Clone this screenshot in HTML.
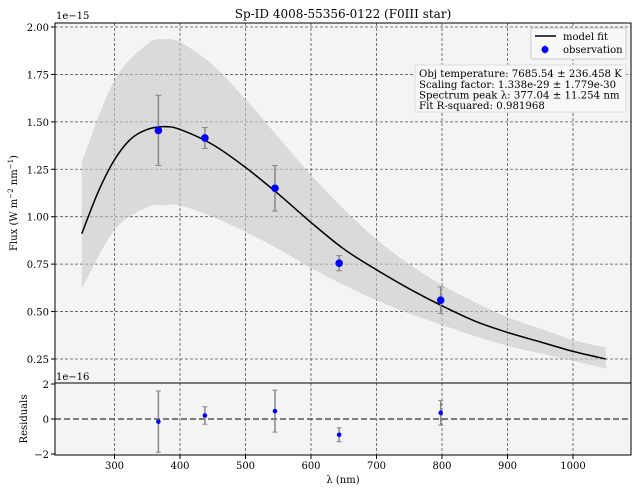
<!DOCTYPE html>
<html><head><meta charset="utf-8"><style>
body{margin:0;background:#fff;}
svg{font-family:"DejaVu Serif","Liberation Serif",serif;display:block}
</style></head><body>
<svg id="c" width="638" height="491" viewBox="0 0 638 491">
<rect x="0" y="0" width="638" height="491" fill="#fff"/>
<text x="343" y="18" font-size="12" text-anchor="middle">Sp-ID 4008-55356-0122 (F0III star)</text>
<rect x="55" y="23" width="576" height="360" fill="#f4f4f4"/>
<rect x="55" y="383" width="576" height="72" fill="#f4f4f4"/>
<g id="grid"></g>
<g id="band"></g>
<g id="model"></g>
<g id="obs"></g>
<g id="res"></g>
<rect x="55" y="23" width="576" height="360" fill="none" stroke="#000" stroke-width="1"/>
<rect x="55" y="383" width="576" height="72" fill="none" stroke="#000" stroke-width="1"/>
<g id="ticks" font-size="10"></g>
<text x="56" y="19" font-size="10">1e−15</text>
<text x="56" y="380" font-size="10">1e−16</text>
<text transform="translate(17,203) rotate(-90)" font-size="10" text-anchor="middle">Flux (W m<tspan baseline-shift="super" font-size="7">−2</tspan> nm<tspan baseline-shift="super" font-size="7">−1</tspan>)</text>
<text transform="translate(27,419) rotate(-90)" font-size="10" text-anchor="middle">Residuals</text>
<text x="343" y="483" font-size="10" text-anchor="middle">λ (nm)</text>
<g>
<rect x="531" y="28" width="95" height="31" fill="#f8f8f8" stroke="#ccc" rx="2"/>
<line x1="535" y1="36" x2="556" y2="36" stroke="#000" stroke-width="1.5"/>
<text x="563" y="40" font-size="10">model fit</text>
<line x1="545" y1="45" x2="545" y2="54" stroke="#888"/>
<circle cx="545" cy="49.5" r="3.5" fill="#0000ff"/>
<text x="563" y="53" font-size="10">observation</text>
</g>
<g font-size="10.2">
<rect x="415" y="65" width="211" height="47" fill="#f8f8f8" stroke="#ddd"/>
<text x="419" y="77">Obj temperature: 7685.54 ± 236.458 K</text>
<text x="419" y="88">Scaling factor: 1.338e-29 ± 1.779e-30</text>
<text x="419" y="98.5">Spectrum peak λ: 377.04 ± 11.254 nm</text>
<text x="419" y="109">Fit R-squared: 0.981968</text>
</g>
</svg>
<script>
const modelWl=[250,275,300,325,350,375,400,450,500,550,600,650,700,750,800,850,900,950,1000,1050];
const modelFlux=[0.91,1.13,1.30,1.41,1.46,1.475,1.46,1.38,1.26,1.12,0.97,0.83,0.72,0.62,0.53,0.45,0.39,0.34,0.29,0.25];
const bandWl=[250,300,350,375,400,450,500,550,600,650,700,750,800,850,900,950,1000,1050];
const bandUpper=[1.29,1.72,1.91,1.935,1.92,1.80,1.62,1.42,1.22,1.04,0.88,0.75,0.64,0.55,0.47,0.41,0.35,0.31];
const bandLower=[0.62,0.93,1.05,1.06,1.06,1.00,0.92,0.83,0.73,0.64,0.56,0.49,0.43,0.37,0.32,0.28,0.24,0.20];
const obsWl=[367,438,545,643,798];
const obsFlux=[1.455,1.415,1.15,0.755,0.56];
const obsErr=[0.185,0.055,0.12,0.04,0.07];
const resVal=[-0.15,0.2,0.45,-0.9,0.35];
const resErr=[1.75,0.5,1.2,0.4,0.7];
const xTicks=[300,400,500,600,700,800,900,1000];
const yTicks=[0.25,0.5,0.75,1.0,1.25,1.5,1.75,2.0];
const rTicks=[-2,0,2];
const NS='http://www.w3.org/2000/svg';
const X=v=>114.5+(v-300)*0.655;
const Y=v=>27+(2.0-v)*189.7;
const R=v=>419-v*17.5;
function mk(t,a,p){const e=document.createElementNS(NS,t);for(const k in a)e.setAttribute(k,a[k]);document.getElementById(p).appendChild(e);return e;}
function smooth(pts,move){
 let d=(move?'M':'L')+pts[0][0]+','+pts[0][1];
 for(let i=0;i<pts.length-1;i++){
  const p0=pts[Math.max(0,i-1)],p1=pts[i],p2=pts[i+1],p3=pts[Math.min(pts.length-1,i+2)];
  const c1=[p1[0]+(p2[0]-p0[0])/6,p1[1]+(p2[1]-p0[1])/6];
  const c2=[p2[0]-(p3[0]-p1[0])/6,p2[1]-(p3[1]-p1[1])/6];
  d+='C'+c1[0]+','+c1[1]+' '+c2[0]+','+c2[1]+' '+p2[0]+','+p2[1];
 }
 return d;
}
xTicks.forEach(v=>{
 let g=mk('line',{x1:X(v),x2:X(v),y1:23,y2:383,stroke:'#555','stroke-dasharray':'3,2','stroke-width':0.8},'grid');
 
 
 mk('line',{x1:X(v),x2:X(v),y1:383,y2:455,stroke:'#555','stroke-dasharray':'3,2','stroke-width':0.8},'grid');
 mk('line',{x1:X(v),x2:X(v),y1:455,y2:459,stroke:'#000'},'ticks');
 let t=mk('text',{x:X(v),y:469,'text-anchor':'middle'},'ticks');t.textContent=v;
 
 
});
yTicks.forEach(v=>{
 mk('line',{x1:55,x2:631,y1:Y(v),y2:Y(v),stroke:'#555','stroke-dasharray':'3,2','stroke-width':0.8},'grid');
 mk('line',{x1:51,x2:55,y1:Y(v),y2:Y(v),stroke:'#000'},'ticks');
 let t=mk('text',{x:49,y:Y(v)+4,'text-anchor':'end'},'ticks');t.textContent=v.toFixed(2);
 
 
});
rTicks.forEach(v=>{
 mk('line',{x1:51,x2:55,y1:R(v),y2:R(v),stroke:'#000'},'ticks');
 let t=mk('text',{x:49,y:R(v)+4,'text-anchor':'end'},'ticks');t.textContent=v<0?'−'+(-v):v;
 
 
});
const up=bandWl.map((w,i)=>[X(w),Y(bandUpper[i])]);
const lo=bandWl.map((w,i)=>[X(w),Y(bandLower[i])]).reverse();
let b=mk('path',{d:smooth(up,true)+smooth(lo,false)+'Z',fill:'#c8c8c8','fill-opacity':0.6},'band');


let m=mk('path',{d:smooth(modelWl.map((w,i)=>[X(w),Y(modelFlux[i])]),true),fill:'none',stroke:'#000','stroke-width':1.5},'model');


obsWl.forEach((w,i)=>{
 const x=X(w),y1=Y(obsFlux[i]+obsErr[i]),y2=Y(obsFlux[i]-obsErr[i]);
 mk('line',{x1:x,x2:x,y1:y1,y2:y2,stroke:'#888','stroke-width':1.5},'obs');
 mk('line',{x1:x-3,x2:x+3,y1:y1,y2:y1,stroke:'#888'},'obs');
 mk('line',{x1:x-3,x2:x+3,y1:y2,y2:y2,stroke:'#888'},'obs');
 let c=mk('circle',{cx:x,cy:Y(obsFlux[i]),r:3.8,fill:'#0000ff'},'obs');
 
 
});
let z=mk('line',{x1:55,x2:631,y1:R(0),y2:R(0),stroke:'#555','stroke-dasharray':'6,3','stroke-width':1.5},'res');


obsWl.forEach((w,i)=>{
 const x=X(w),y1=R(resVal[i]+resErr[i]),y2=R(resVal[i]-resErr[i]);
 mk('line',{x1:x,x2:x,y1:y1,y2:y2,stroke:'#888','stroke-width':1.5},'res');
 mk('line',{x1:x-2.5,x2:x+2.5,y1:y1,y2:y1,stroke:'#888'},'res');
 mk('line',{x1:x-2.5,x2:x+2.5,y1:y2,y2:y2,stroke:'#888'},'res');
 let c=mk('circle',{cx:x,cy:R(resVal[i]),r:2.3,fill:'#0000ff'},'res');
 
 
});
</script>
</body></html>
